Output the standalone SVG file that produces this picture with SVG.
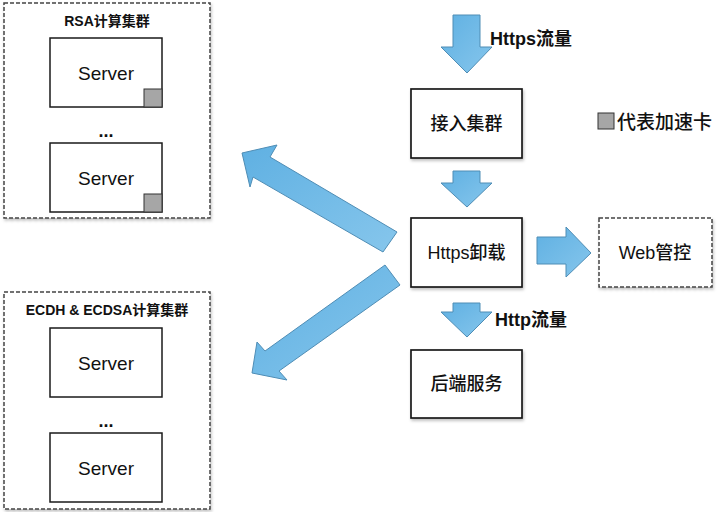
<svg xmlns="http://www.w3.org/2000/svg" width="720" height="512" viewBox="0 0 720 512">
<defs>
<linearGradient id="blue" x1="0" y1="0" x2="1" y2="1">
<stop offset="0" stop-color="#5fb0e2"/>
<stop offset="1" stop-color="#86c6ec"/>
</linearGradient>
<filter id="sh" x="-10%" y="-10%" width="130%" height="130%">
<feDropShadow dx="1" dy="2" stdDeviation="1.5" flood-color="#000" flood-opacity="0.25"/>
</filter>
</defs>
<style>
.cluster{fill:#fff;stroke:#444;stroke-width:1.5;stroke-dasharray:4 2;filter:url(#sh)}
.box{fill:#fff;stroke:#1a1a1a;stroke-width:1.7;filter:url(#sh)}
.srv{fill:#fff;stroke:#1a1a1a;stroke-width:1.5}
.card{fill:#a6a6a6;stroke:#333;stroke-width:1}
.arrow{fill:url(#blue);stroke:#4f8db5;stroke-width:1}
text{font-family:"Liberation Sans","Noto Sans CJK SC",sans-serif;fill:#111}
.t{font-size:18px;text-anchor:middle;font-weight:500}
.s{font-size:19px;text-anchor:middle}
.dots{font-size:18px;font-weight:bold;text-anchor:middle}
.title{font-size:14px;font-weight:bold;text-anchor:middle}
.lab{font-size:18px;font-weight:bold}
</style>
<rect width="720" height="512" fill="#fff"/>

<g id="rsa-cluster">
<rect class="cluster" x="4" y="3" width="206" height="215"/>
<text class="title" x="107" y="26">RSA计算集群</text>
<g id="rsa-server-1">
<rect class="srv" x="50" y="38" width="112" height="69"/>
<text class="s" x="106" y="80">Server</text>
<rect class="card" x="144" y="89" width="18" height="18"/>
</g>
<text class="dots" x="106" y="137">...</text>
<g id="rsa-server-2">
<rect class="srv" x="50" y="143" width="112" height="69"/>
<text class="s" x="106" y="185">Server</text>
<rect class="card" x="144" y="194" width="18" height="18"/>
</g>
</g>

<g id="ecdh-cluster">
<rect class="cluster" x="4" y="292" width="206" height="217"/>
<text class="title" x="107" y="315">ECDH &amp; ECDSA计算集群</text>
<g id="ecdh-server-1">
<rect class="srv" x="50" y="328" width="112" height="69"/>
<text class="s" x="106" y="370">Server</text>
</g>
<text class="dots" x="106" y="427">...</text>
<g id="ecdh-server-2">
<rect class="srv" x="50" y="433" width="112" height="69"/>
<text class="s" x="106" y="475">Server</text>
</g>
</g>

<g id="access">
<rect class="box" x="411" y="89" width="111" height="69"/>
<text class="t" x="466.5" y="130">接入集群</text>
</g>

<g id="offload">
<rect class="box" x="411" y="218" width="111" height="69"/>
<text class="t" x="466.5" y="259">Https卸载</text>
</g>

<g id="backend">
<rect class="box" x="411" y="350" width="111" height="68"/>
<text class="t" x="466.5" y="390">后端服务</text>
</g>

<g id="web">
<rect class="cluster" x="599" y="218" width="113" height="69"/>
<text class="t" x="655" y="259">Web管控</text>
</g>

<g id="legend">
<rect class="card" x="598" y="113" width="16" height="16"/>
<text style="font-size:19px;font-weight:500" x="617" y="129">代表加速卡</text>
</g>

<g id="connectors">
<polygon class="arrow" points="453,15 480,15 480,47 492,47 467,73 441,47 453,47"/>
<text class="lab" x="490" y="45">Https流量</text>
<polygon class="arrow" points="453,171 480,171 480,183 492,183 467,207 441,183 453,183"/>
<polygon class="arrow" points="537,237 566,237 566,227 591,253 566,277 566,264 537,264"/>
<polygon class="arrow" points="453,303 480,303 480,312 492,312 467,337 441,312 453,312"/>
<text class="lab" x="495" y="326">Http流量</text>
<polygon class="arrow" points="242,153 277,145 270,157 397,232 383,252 253,177 250,187"/>
<polygon class="arrow" points="252,373 257,342 265,351 385,265 400,285 279,371 287,380"/>
</g>
</svg>
